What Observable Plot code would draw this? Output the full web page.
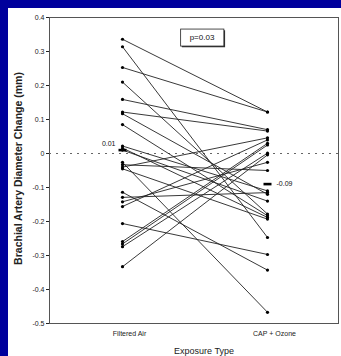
<!DOCTYPE html>
<html>
<head>
<meta charset="utf-8">
<script src="https://cdn.jsdelivr.net/npm/d3@7"></script>
<script src="https://cdn.jsdelivr.net/npm/@observablehq/plot@0.6"></script>
<style>
  html, body { margin: 0; padding: 0; background: #00009c; width: 341px; height: 356px; overflow: hidden; }
  #panel { position: absolute; left: 8px; top: 8px; width: 333px; height: 348px; background: #fff; }
</style>
</head>
<body>
<div id="panel"></div>
<script>
// ---- data ----
const categories = ["Filtered Air", "CAP + Ozone"];
const filteredAir = [0.336, 0.314, 0.253, 0.21, 0.159, 0.122, 0.117, 0.085, 0.022, 0.016, 0.01, -0.026,
                     -0.033, -0.04, -0.045, -0.114, -0.129, -0.142, -0.156, -0.206, -0.259, -0.266, -0.274, -0.333];
const capOzone    = [0.122, -0.247, 0.122, -0.178, 0.07, 0.066, -0.12, -0.183, -0.11, -0.188, -0.14, -0.467,
                     -0.05, 0.046, -0.193, -0.343, -0.115, -0.026, 0.04, -0.297, 0.03, 0.025, 0.001, -0.004];
const meanValues = [0.01, -0.09];
const meanLabels = ["0.01", "-0.09"];
const yTicks = [0.4, 0.3, 0.2, 0.1, 0, -0.1, -0.2, -0.3, -0.4, -0.5];
const pValueLabel = "p=0.03";
const yTitle = "Brachial Artery Diameter Change (mm)";
const xTitle = "Exposure Type";

// ---- tables ----
const pairs = filteredAir.map((v, i) => ({before: v, after: capOzone[i]}));
const points = [
  ...filteredAir.map(v => ({cat: categories[0], v})),
  ...capOzone.map(v => ({cat: categories[1], v}))
];
const means = meanValues.map((v, i) => ({cat: categories[i], v, label: meanLabels[i]}));

// horizontal bar symbol for the group means
const barSymbol = {
  draw(ctx, size) {
    const w = Math.sqrt(size / Math.PI);
    const h = 1.3;
    ctx.moveTo(-w, -h); ctx.lineTo(w, -h); ctx.lineTo(w, h); ctx.lineTo(-w, h); ctx.closePath();
  }
};

const FONT = "'Liberation Sans', Arial, sans-serif";

const chart = Plot.plot({
  width: 333,
  height: 348,
  marginLeft: 41,
  marginRight: 3,
  marginTop: 9,
  marginBottom: 33,
  style: {background: "white", fontFamily: FONT, fontSize: "7px", color: "#222", overflow: "visible"},
  x: {type: "point", domain: categories, padding: 0.5, insetRight: -2},
  y: {domain: [-0.5, 0.4]},
  marks: [
    Plot.frame({stroke: "#555"}),
    Plot.axisY({ticks: yTicks, tickSize: 3, tickPadding: 2, label: null, fontSize: 7,
                tickFormat: d => Math.abs(d) < 1e-9 ? "0" : d.toFixed(1)}),
    Plot.axisX({tickSize: 0, tickPadding: 8, dx: 7, label: null, fontSize: 7}),
    Plot.ruleY([0], {stroke: "#666", strokeDasharray: "2,5", strokeWidth: 1}),
    Plot.link(pairs, {x1: () => categories[0], x2: () => categories[1], y1: "before", y2: "after",
                      stroke: "#222", strokeWidth: 0.9}),
    Plot.dot(points, {x: "cat", y: "v", r: 1.6, fill: "#000", stroke: "none"}),
    Plot.dot(means, {x: "cat", y: "v", r: 4, symbol: barSymbol, fill: "#000", stroke: "none"}),
    Plot.text(means.slice(0, 1), {x: "cat", y: "v", text: "label", textAnchor: "end", dx: -7, dy: -6,
                                   fontSize: 7, fill: "#111"}),
    Plot.text(means.slice(1), {x: "cat", y: "v", text: "label", textAnchor: "start", dx: 9, dy: 0,
                               fontSize: 7, fill: "#111"}),
    Plot.text([pValueLabel], {frameAnchor: "top", lineAnchor: "middle", dx: 8, dy: 20, fontSize: 8, fill: "#111"}),
    Plot.text([yTitle], {frameAnchor: "left", textAnchor: "middle", lineAnchor: "middle", dx: -31, dy: -2,
                         rotate: -90, fontSize: 10.5, fontWeight: "bold", fill: "#222"}),
    Plot.text([xTitle], {frameAnchor: "bottom", lineAnchor: "middle", dx: 10, dy: 28, fontSize: 9, fill: "#222"})
  ]
});

document.getElementById("panel").appendChild(chart);

// box around the p-value annotation
d3.select(chart).selectAll("text").filter(function () { return this.textContent === pValueLabel; }).each(function () {
  const b = this.getBBox();
  const g = this.parentNode;
  const tr = this.getAttribute("transform");
  const px = 9, py = 4;
  d3.select(g).insert("rect", ":first-child")
    .attr("transform", tr)
    .attr("x", b.x - px + 1.2).attr("y", b.y - py + 1.2)
    .attr("width", b.width + 2 * px).attr("height", b.height + 2 * py)
    .attr("fill", "#333").attr("stroke", "none");
  d3.select(g).insert("rect", ":nth-child(2)")
    .attr("transform", tr)
    .attr("x", b.x - px).attr("y", b.y - py)
    .attr("width", b.width + 2 * px).attr("height", b.height + 2 * py)
    .attr("fill", "#fff").attr("stroke", "#222").attr("stroke-width", 0.8);
});
</script>
</body>
</html>
